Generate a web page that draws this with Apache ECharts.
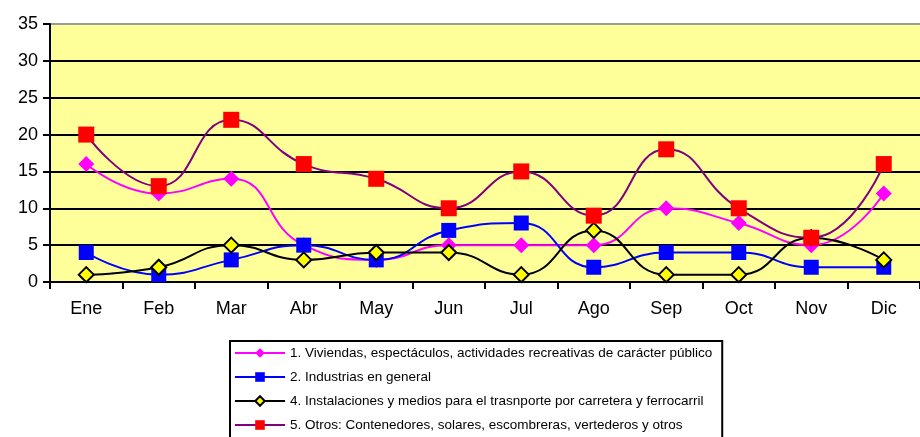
<!DOCTYPE html>
<html><head><meta charset="utf-8">
<script src="https://cdn.jsdelivr.net/npm/echarts@6/dist/echarts.min.js"></script>
<style>html,body{margin:0;padding:0;background:#fff}#c{width:920px;height:437px}</style>
</head><body><div id="c"></div>
<script>
const months = ['Ene','Feb','Mar','Abr','May','Jun','Jul','Ago','Sep','Oct','Nov','Dic'];
const yTicks = [0,5,10,15,20,25,30,35];
const name1 = '1. Viviendas, espectáculos, actividades recreativas de carácter público';
const name2 = '2. Industrias en general';
const name4 = '4. Instalaciones y medios para el trasnporte por carretera y ferrocarril';
const name5 = '5. Otros: Contenedores, solares, escombreras, vertederos y otros';
const viviendas = [16,12,14,5,3,5,5,5,10,8,5,12];
const industrias = [4,1,3,5,3,7,8,2,4,4,2,2];
const instalaciones = [1,2,5,3,4,4,1,7,1,1,6,3];
const otros = [20,13,22,16,14,10,15,9,18,10,6,16];

const chart = echarts.init(document.getElementById('c'), null, {renderer:'canvas'});
const font = 'Arial, "Liberation Sans", sans-serif';
chart.setOption({
  animation:false,
  grid:{left:50, top:24, width:880, height:258, show:true, backgroundColor:'#FFFF99', borderWidth:0},
  xAxis:{type:'category', data:months, boundaryGap:true,
    axisLine:{lineStyle:{color:'#000', width:2}},
    axisTick:{show:true, length:7, lineStyle:{color:'#000', width:2}},
    axisLabel:{color:'#000', fontFamily:font, fontSize:18, margin:18}},
  yAxis:{type:'value', min:yTicks[0], max:yTicks[yTicks.length-1], interval:5,
    axisLine:{show:true, lineStyle:{color:'#000', width:2}},
    axisTick:{show:true, length:7, lineStyle:{color:'#000', width:2}},
    axisLabel:{color:'#000', fontFamily:font, fontSize:18, margin:12},
    splitLine:{show:true, lineStyle:{color:['#000','#000','#000','#000','#000','#000','#000','#999'], width:2}}},
  legend:{orient:'vertical', left:230, top:341, height:140, itemWidth:50, itemHeight:12, itemGap:10,
    borderColor:'#000', borderWidth:2, padding:[5,10,30,4],
    textStyle:{fontFamily:font, fontSize:13.5, color:'#000'},
    data:[name1,name2,name4,name5]},
  series:[
    {name:name1, type:'line', data:viviendas, smooth:0.5, symbol:'diamond', symbolSize:16,
      lineStyle:{color:'#FF00FF', width:2}, itemStyle:{color:'#FF00FF'}},
    {name:name2, type:'line', data:industrias, smooth:0.5, symbol:'rect', symbolSize:15,
      lineStyle:{color:'#0000FF', width:2}, itemStyle:{color:'#0000FF'}},
    {name:name4, type:'line', data:instalaciones, smooth:0.5, symbol:'diamond', symbolSize:15,
      lineStyle:{color:'#000', width:2}, itemStyle:{color:'#FFFF00', borderColor:'#000', borderWidth:2}},
    {name:name5, type:'line', data:otros, smooth:0.5, symbol:'rect', symbolSize:16,
      lineStyle:{color:'#800080', width:2}, itemStyle:{color:'#FF0000'}}
  ]
});
</script></body></html>
